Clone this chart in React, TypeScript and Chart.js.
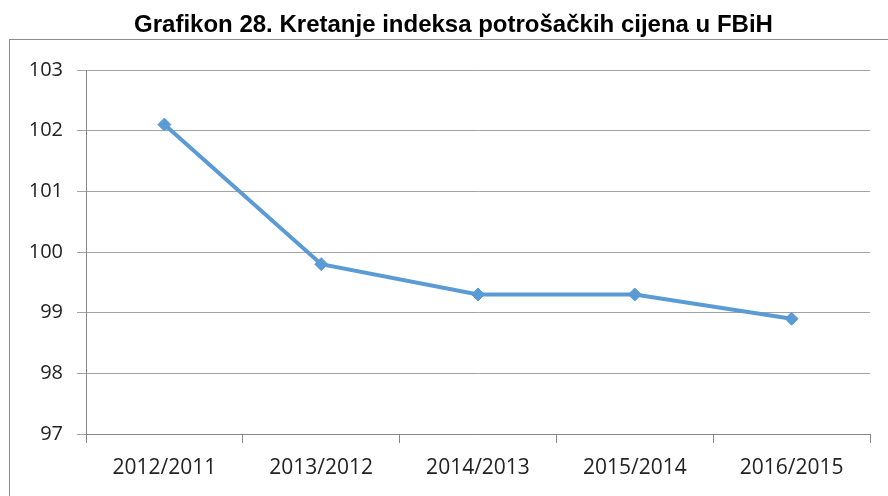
import React, { useEffect, useRef } from "react";
import { Chart, registerables } from "chart.js";
Chart.register(...registerables);

const TITLE = "Grafikon 28. Kretanje indeksa potrošačkih cijena u FBiH";
const categories = ["2012/2011", "2013/2012", "2014/2013", "2015/2014", "2016/2015"];
const values = [102.1, 99.8, 99.3, 99.3, 98.9];
const yMin = 97;
const yMax = 103;
const yStep = 1;

export default function App() {
  const ref = useRef<HTMLCanvasElement>(null);
  useEffect(() => {
    const framePlugin = {
      id: "frame",
      beforeDraw(chart: any) {
        const ctx = chart.ctx;
        ctx.save();
        ctx.fillStyle = "#fff";
        ctx.fillRect(0, 0, chart.width, chart.height);
        ctx.strokeStyle = "#8c8c8c";
        ctx.lineWidth = 1;
        ctx.strokeRect(9.5, 39.5, 900, 500);
        ctx.font = "bold 24px 'Liberation Sans', Arial, sans-serif";
        ctx.fillStyle = "#000";
        ctx.textAlign = "center";
        ctx.textBaseline = "alphabetic";
        ctx.fillText(TITLE, 453.5, 32);
        ctx.restore();
      },
    };
    const xFont = { family: "'Open Sans', sans-serif", size: 21 };
    const yFont = { family: "'Open Sans', sans-serif", size: 20 };
    const chart = new Chart(ref.current!, {
      type: "line",
      data: {
        labels: categories,
        datasets: [
          {
            data: values,
            borderColor: "#5B9BD5",
            backgroundColor: "#5B9BD5",
            borderWidth: 4,
            pointStyle: "rectRot",
            pointRadius: 6.5,
            pointBorderWidth: 1,
            tension: 0,
          },
        ],
      },
      options: {
        responsive: false,
        animation: false,
        layout: { padding: { top: 70, right: 18, left: 0, bottom: 0 } },
        plugins: {
          legend: { display: false },
          title: { display: false },
          tooltip: { enabled: false },
        },
        scales: {
          x: {
            offset: true,
            grid: { offset: true, drawOnChartArea: false, drawTicks: true, tickLength: 9, color: "#868686" },
            border: { color: "#868686" },
            ticks: { font: xFont, color: "#222", padding: 12, maxRotation: 0, autoSkip: false },
            afterFit(s: any) {
              s.height = 62;
            },
          },
          y: {
            min: yMin,
            max: yMax,
            ticks: { stepSize: yStep, padding: 14, font: yFont, color: "#222" },
            grid: { color: "#a3a3a3", tickLength: 9 },
            border: { color: "#868686" },
            afterFit(s: any) {
              s.width = 86;
            },
          },
        },
      },
      plugins: [framePlugin],
    } as any);
    return () => chart.destroy();
  }, []);
  return (
    <div style={{ position: "fixed", left: 0, top: 0, width: 888, height: 496, background: "#fff" }}>
      <canvas ref={ref} width={888} height={496} style={{ display: "block" }} />
    </div>
  );
}
